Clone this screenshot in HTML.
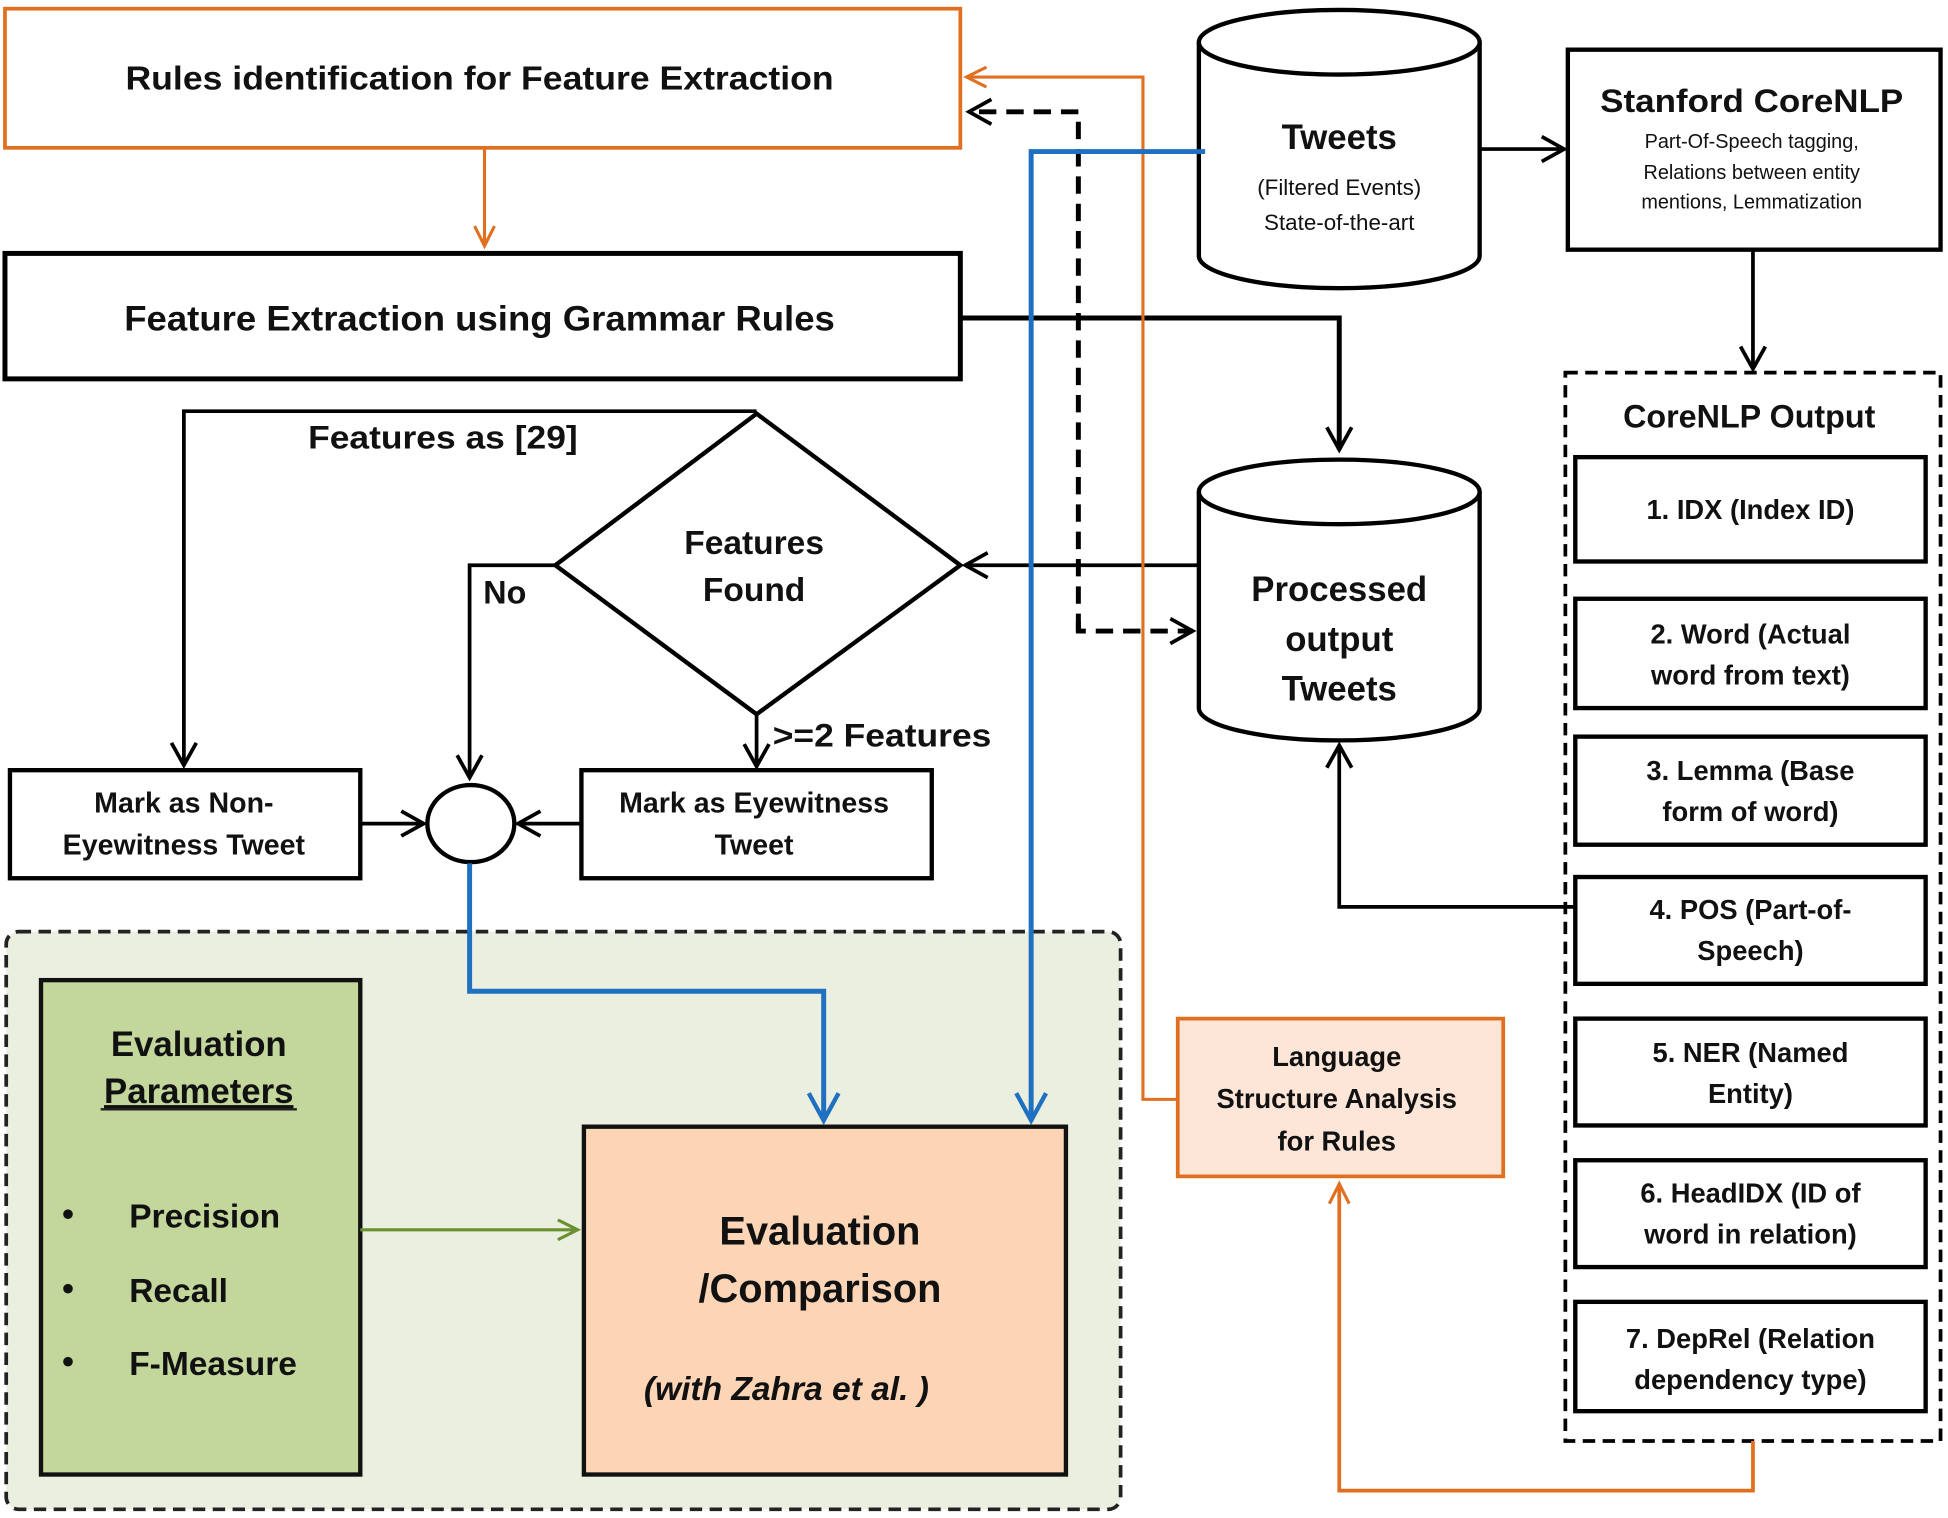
<!DOCTYPE html>
<html><head><meta charset="utf-8"><style>
html,body{margin:0;padding:0;background:#fff;}
svg{display:block;}
text{font-family:"Liberation Sans",Arial,sans-serif;fill:#111;}
</style></head><body>
<svg width="1948" height="1518" viewBox="0 0 1568 1222" preserveAspectRatio="none" xmlns="http://www.w3.org/2000/svg">
<defs>
<marker id="ab" markerWidth="10" markerHeight="10" refX="8" refY="5" orient="auto" markerUnits="userSpaceOnUse"><path d="M1,0 L9,5 L1,10" fill="none" stroke="#000" stroke-width="2.5"/></marker>
<marker id="ab2" markerWidth="24" markerHeight="24" refX="20" refY="12" orient="auto" markerUnits="userSpaceOnUse"><path d="M2,2 L20,12 L2,22" fill="none" stroke="#000" stroke-width="3"/></marker>
<marker id="ao" markerWidth="24" markerHeight="24" refX="20" refY="12" orient="auto" markerUnits="userSpaceOnUse"><path d="M4,4 L20,12 L4,20" fill="none" stroke="#e07020" stroke-width="2.5"/></marker>
<marker id="abl" markerWidth="28" markerHeight="28" refX="24" refY="14" orient="auto" markerUnits="userSpaceOnUse"><path d="M2,2 L24,14 L2,26" fill="none" stroke="#1f70c0" stroke-width="3.5"/></marker>
<marker id="ag" markerWidth="24" markerHeight="24" refX="20" refY="12" orient="auto" markerUnits="userSpaceOnUse"><path d="M4,4 L20,12 L4,20" fill="none" stroke="#6a9030" stroke-width="2.5"/></marker>
</defs>

<!-- green region -->
<rect x="5" y="750" width="897" height="465" rx="10" fill="#ebefe0" stroke="#222" stroke-width="3" stroke-dasharray="10,6"/>

<!-- Rules box -->
<rect x="4" y="7" width="769" height="112" fill="#fff" stroke="#e07020" stroke-width="3"/>
<text x="386" y="72" font-size="27" font-weight="bold" text-anchor="middle" textLength="570" lengthAdjust="spacingAndGlyphs">Rules identification for Feature Extraction</text>
<line x1="390" y1="119" x2="390" y2="198" stroke="#e07020" stroke-width="2.5" marker-end="url(#ao)"/>

<!-- Feature extraction -->
<rect x="4" y="204" width="769" height="101" fill="#fff" stroke="#000" stroke-width="4"/>
<text x="386" y="266" font-size="28" font-weight="bold" text-anchor="middle" textLength="572" lengthAdjust="spacingAndGlyphs">Feature Extraction using Grammar Rules</text>

<!-- Tweets cylinder -->
<path d="M965,34 L965,206 A113,26 0 0 0 1191,206 L1191,34" fill="#fff" stroke="#000" stroke-width="3.5"/>
<ellipse cx="1078" cy="34" rx="113" ry="26" fill="#fff" stroke="#000" stroke-width="3.5"/>
<text x="1078" y="120" font-size="28" font-weight="bold" text-anchor="middle">Tweets</text>
<text x="1078" y="157" font-size="18" text-anchor="middle">(Filtered  Events)</text>
<text x="1078" y="185" font-size="18" text-anchor="middle">State-of-the-art</text>

<!-- Stanford -->
<rect x="1262" y="40" width="300" height="161" fill="#fff" stroke="#000" stroke-width="3.5"/>
<text x="1410" y="90" font-size="26" font-weight="bold" text-anchor="middle" textLength="244" lengthAdjust="spacingAndGlyphs">Stanford CoreNLP</text>
<text x="1410" y="119" font-size="16" text-anchor="middle">Part-Of-Speech tagging,</text>
<text x="1410" y="144" font-size="16" text-anchor="middle">Relations between entity</text>
<text x="1410" y="168" font-size="16" text-anchor="middle">mentions, Lemmatization</text>
<line x1="1191" y1="120" x2="1259" y2="120" stroke="#000" stroke-width="3" marker-end="url(#ab2)"/>
<line x1="1411" y1="201" x2="1411" y2="297" stroke="#000" stroke-width="3" marker-end="url(#ab2)"/>

<!-- CoreNLP output -->
<rect x="1260" y="300" width="302" height="860" fill="#fff" stroke="#000" stroke-width="3" stroke-dasharray="10,6"/>
<text x="1408" y="344" font-size="26" font-weight="bold" text-anchor="middle">CoreNLP Output</text>
<g stroke="#000" stroke-width="3.5" fill="#fff">
<rect x="1268" y="368" width="282" height="84"/>
<rect x="1268" y="482" width="282" height="88"/>
<rect x="1268" y="593" width="282" height="87"/>
<rect x="1268" y="706" width="282" height="86"/>
<rect x="1268" y="820" width="282" height="86"/>
<rect x="1268" y="934" width="282" height="86"/>
<rect x="1268" y="1048" width="282" height="88"/>
</g>
<g font-size="22" font-weight="bold" text-anchor="middle">
<text x="1409" y="418">1. IDX (Index ID)</text>
<text x="1409" y="518">2. Word (Actual</text><text x="1409" y="551">word from text)</text>
<text x="1409" y="628">3. Lemma (Base</text><text x="1409" y="661">form of word)</text>
<text x="1409" y="740">4. POS (Part-of-</text><text x="1409" y="773">Speech)</text>
<text x="1409" y="855">5. NER (Named</text><text x="1409" y="888">Entity)</text>
<text x="1409" y="968">6. HeadIDX (ID of</text><text x="1409" y="1001">word in relation)</text>
<text x="1409" y="1085">7. DepRel (Relation</text><text x="1409" y="1118">dependency type)</text>
</g>

<!-- Processed cylinder -->
<path d="M965,396 L965,570 A113,26 0 0 0 1191,570 L1191,396" fill="#fff" stroke="#000" stroke-width="3.5"/>
<ellipse cx="1078" cy="396" rx="113" ry="26" fill="#fff" stroke="#000" stroke-width="3.5"/>
<g font-size="28" font-weight="bold" text-anchor="middle">
<text x="1078" y="484">Processed</text><text x="1078" y="524">output</text><text x="1078" y="564">Tweets</text>
</g>

<!-- Feature extraction -> processed -->
<polyline points="773,256 1078,256 1078,362" fill="none" stroke="#000" stroke-width="4" marker-end="url(#ab2)"/>

<!-- Diamond -->
<polygon points="609,333 773,455 609,575 447,455" fill="#fff" stroke="#000" stroke-width="3.5"/>
<text x="607" y="446" font-size="27" font-weight="bold" text-anchor="middle">Features</text>
<text x="607" y="484" font-size="27" font-weight="bold" text-anchor="middle">Found</text>
<line x1="965" y1="455" x2="777" y2="455" stroke="#000" stroke-width="3" marker-end="url(#ab2)"/>

<polyline points="609,331 148,331 148,616" fill="none" stroke="#000" stroke-width="3" marker-end="url(#ab2)"/>
<text x="248" y="361" font-size="26" font-weight="bold" textLength="217" lengthAdjust="spacingAndGlyphs">Features as [29]</text>
<polyline points="447,455 378,455 378,626" fill="none" stroke="#000" stroke-width="3" marker-end="url(#ab2)"/>
<text x="389" y="486" font-size="26" font-weight="bold">No</text>
<line x1="609" y1="575" x2="609" y2="617" stroke="#000" stroke-width="3" marker-end="url(#ab2)"/>
<text x="622" y="601" font-size="26" font-weight="bold" textLength="176" lengthAdjust="spacingAndGlyphs">&gt;=2 Features</text>

<!-- Mark boxes -->
<rect x="8" y="620" width="282" height="87" fill="#fff" stroke="#000" stroke-width="3.5"/>
<text x="148" y="654" font-size="23" font-weight="bold" text-anchor="middle">Mark as Non-</text>
<text x="148" y="688" font-size="23" font-weight="bold" text-anchor="middle">Eyewitness Tweet</text>
<rect x="468" y="620" width="282" height="87" fill="#fff" stroke="#000" stroke-width="3.5"/>
<text x="607" y="654" font-size="23" font-weight="bold" text-anchor="middle">Mark as Eyewitness</text>
<text x="607" y="688" font-size="23" font-weight="bold" text-anchor="middle">Tweet</text>
<ellipse cx="379" cy="663" rx="35" ry="31" fill="#fff" stroke="#000" stroke-width="3.5"/>
<line x1="290" y1="663" x2="341" y2="663" stroke="#000" stroke-width="3" marker-end="url(#ab2)"/>
<line x1="468" y1="663" x2="417" y2="663" stroke="#000" stroke-width="3" marker-end="url(#ab2)"/>

<!-- dashed black -->
<polyline points="868,508 868,90 780,90" fill="none" stroke="#000" stroke-width="4" stroke-dasharray="14,8" marker-end="url(#ab2)"/>
<polyline points="868,500 868,508 960,508" fill="none" stroke="#000" stroke-width="4" stroke-dasharray="14,8" marker-end="url(#ab2)"/>

<!-- orange lines -->
<polyline points="948,885 920,885 920,62 778,62" fill="none" stroke="#e07020" stroke-width="2.5" marker-end="url(#ao)"/>
<polyline points="1411,1160 1411,1200 1078,1200 1078,953" fill="none" stroke="#e07020" stroke-width="3" marker-end="url(#ao)"/>

<!-- Language box -->
<rect x="948" y="820" width="262" height="127" fill="#fde6d8" stroke="#e07020" stroke-width="3"/>
<g font-size="22" font-weight="bold" text-anchor="middle">
<text x="1076" y="858">Language</text><text x="1076" y="892">Structure Analysis</text><text x="1076" y="926">for Rules</text>
</g>

<!-- POS -> processed -->
<polyline points="1268,730 1078,730 1078,600" fill="none" stroke="#000" stroke-width="3" marker-end="url(#ab2)"/>

<!-- Evaluation params -->
<rect x="33" y="789" width="257" height="398" fill="#c3d69b" stroke="#111" stroke-width="3.5"/>
<text x="160" y="850" font-size="28" text-anchor="middle" font-weight="bold" fill="#222">Evaluation</text>
<text x="160" y="888" font-size="28" text-anchor="middle" font-weight="bold" text-decoration="underline">Parameters</text>
<line x1="81" y1="893" x2="239" y2="893" stroke="#222" stroke-width="2"/>
<g font-size="27" font-weight="bold">
<text x="50" y="986">•</text><text x="104" y="988">Precision</text>
<text x="50" y="1046">•</text><text x="104" y="1048">Recall</text>
<text x="50" y="1105">•</text><text x="104" y="1107">F-Measure</text>
</g>
<line x1="290" y1="990" x2="465" y2="990" stroke="#6a9030" stroke-width="2.5" marker-end="url(#ag)"/>

<!-- Evaluation comparison -->
<rect x="470" y="907" width="388" height="280" fill="#fbd5b6" stroke="#111" stroke-width="3.5"/>
<text x="660" y="1002" font-size="32" font-weight="bold" text-anchor="middle">Evaluation</text>
<text x="660" y="1048" font-size="32" font-weight="bold" text-anchor="middle">/Comparison</text>
<text x="633" y="1127" font-size="27" font-weight="bold" font-style="italic" text-anchor="middle">(with Zahra et al. )</text>

<!-- blue -->
<polyline points="378,695 378,798 663,798 663,902" fill="none" stroke="#1f70c0" stroke-width="4" marker-end="url(#abl)"/>
<polyline points="970,122 830,122 830,902" fill="none" stroke="#1f70c0" stroke-width="4" marker-end="url(#abl)"/>
</svg>
</body></html>
